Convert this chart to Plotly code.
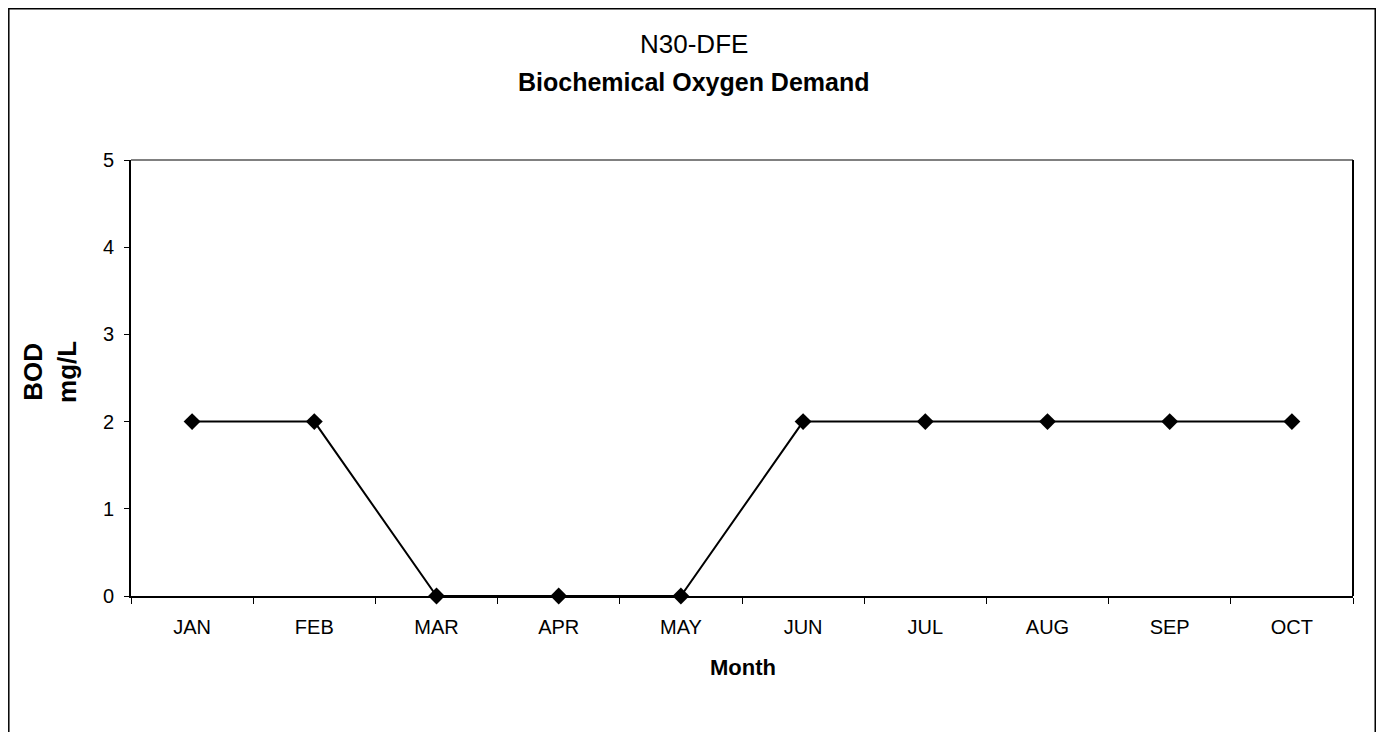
import plotly.graph_objects as go

months = ["JAN", "FEB", "MAR", "APR", "MAY", "JUN", "JUL", "AUG", "SEP", "OCT"]
bod = [2, 2, 0, 0, 0, 2, 2, 2, 2, 2]
y_ticks = [0, 1, 2, 3, 4, 5]

FONT = "Liberation Sans, Arial, sans-serif"

fig = go.Figure()
fig.add_trace(go.Scatter(
    x=months, y=bod, mode="lines+markers",
    line=dict(color="black", width=2),
    marker=dict(symbol="diamond", size=13, color="black"),
    cliponaxis=False, showlegend=False,
))

fig.update_layout(
    width=1368, height=724,
    margin=dict(l=123, r=23, t=152, b=136),
    paper_bgcolor="white", plot_bgcolor="white",
    font=dict(family=FONT, color="black"),
    xaxis=dict(
        type="category", range=[-0.5, 9.5], tickson="boundaries",
        ticks="outside", ticklen=6, tickcolor="black", tickwidth=1,
        showline=True, linecolor="black", linewidth=2,
        showgrid=False, zeroline=False,
        tickfont=dict(size=20, family=FONT), ticklabelstandoff=12,
    ),
    yaxis=dict(
        range=[0, 5], tickvals=y_ticks,
        ticks="outside", ticklen=5, tickcolor="black", tickwidth=1,
        showline=True, linecolor="black", linewidth=2,
        showgrid=False, zeroline=False,
        tickfont=dict(size=20, family=FONT), ticklabelstandoff=6,
    ),
    shapes=[
        # plot-area top (gray) and right borders
        dict(type="line", xref="paper", yref="paper", x0=0, x1=1, y0=1, y1=1,
             line=dict(color="#808080", width=2)),
        dict(type="line", xref="paper", yref="paper", x0=1, x1=1, y0=0, y1=1,
             line=dict(color="black", width=2)),
        # outer chart border (bottom edge runs off the page)
        dict(type="rect", xref="paper", yref="paper",
             x0=-0.1000, x1=1.0182, y0=-0.45, y1=1.3469,
             line=dict(color="black", width=1.5)),
    ],
    annotations=[
        dict(text="N30-DFE", xref="paper", yref="paper", x=0.4607, y=1.266,
             xanchor="center", yanchor="middle", showarrow=False,
             font=dict(size=26, family=FONT)),
        dict(text="<b>Biochemical Oxygen Demand</b>", xref="paper", yref="paper",
             x=0.4607, y=1.178, xanchor="center", yanchor="middle", showarrow=False,
             font=dict(size=25, family=FONT)),
        dict(text="<b>Month</b>", xref="paper", yref="paper", x=0.501, y=-0.165,
             xanchor="center", yanchor="middle", showarrow=False,
             font=dict(size=22, family=FONT)),
        dict(text="<b>BOD<br>mg/L</b>", xref="paper", yref="paper", x=-0.0663, y=0.514,
             xanchor="center", yanchor="middle", showarrow=False, textangle=-90,
             font=dict(size=26, family=FONT)),
    ],
)

fig.write_html("out.html")
